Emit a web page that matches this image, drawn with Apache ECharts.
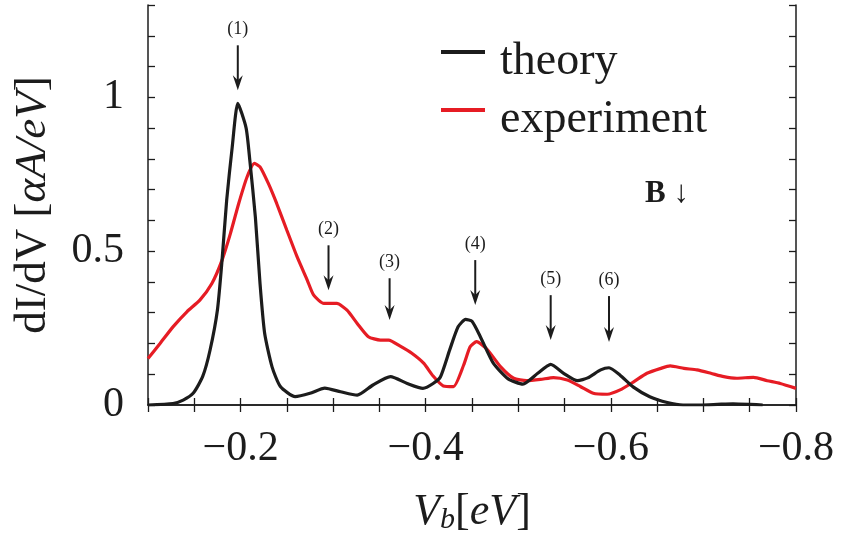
<!DOCTYPE html>
<html>
<head>
<meta charset="utf-8">
<script src="https://cdn.jsdelivr.net/npm/echarts@6/dist/echarts.min.js"></script>
<style>html,body{margin:0;padding:0;background:#fff}#c{width:843px;height:540px}</style>
</head>
<body>
<div id="c"></div>
<script>
// ---- data ----
const theoryX = [-0.100,-0.127,-0.138,-0.149,-0.159,-0.167,-0.175,-0.180,-0.185,-0.191,-0.197,-0.206,-0.210,-0.216,-0.221,-0.226,-0.234,-0.243,-0.259,-0.275,-0.291,-0.308,-0.326,-0.343,-0.362,-0.380,-0.397,-0.408,-0.416,-0.426,-0.435,-0.443,-0.450,-0.459,-0.473,-0.489,-0.505,-0.521,-0.535,-0.549,-0.564,-0.575,-0.589,-0.598,-0.610,-0.624,-0.642,-0.661,-0.678,-0.697,-0.715,-0.732,-0.751,-0.764];
const theoryY = [0.000,0.005,0.016,0.039,0.092,0.178,0.309,0.471,0.666,0.839,0.980,0.900,0.795,0.610,0.395,0.233,0.124,0.060,0.027,0.038,0.055,0.043,0.032,0.065,0.092,0.070,0.054,0.070,0.092,0.180,0.254,0.278,0.272,0.222,0.136,0.085,0.068,0.103,0.132,0.103,0.079,0.088,0.114,0.121,0.097,0.059,0.027,0.008,0.000,0.000,0.002,0.004,0.002,0.000];
const expX = [-0.100,-0.113,-0.127,-0.142,-0.156,-0.169,-0.180,-0.189,-0.198,-0.207,-0.215,-0.221,-0.230,-0.239,-0.250,-0.261,-0.272,-0.279,-0.290,-0.304,-0.315,-0.326,-0.338,-0.351,-0.360,-0.372,-0.385,-0.398,-0.408,-0.419,-0.430,-0.441,-0.448,-0.455,-0.466,-0.481,-0.495,-0.509,-0.524,-0.538,-0.553,-0.567,-0.581,-0.596,-0.610,-0.625,-0.639,-0.654,-0.664,-0.679,-0.693,-0.708,-0.722,-0.736,-0.754,-0.769,-0.783,-0.800];
const expY = [0.151,0.200,0.254,0.303,0.341,0.395,0.471,0.557,0.655,0.741,0.785,0.774,0.720,0.655,0.568,0.482,0.406,0.357,0.330,0.330,0.308,0.265,0.222,0.211,0.211,0.192,0.168,0.135,0.094,0.062,0.060,0.130,0.189,0.206,0.182,0.124,0.087,0.079,0.083,0.089,0.081,0.060,0.038,0.035,0.049,0.076,0.103,0.119,0.127,0.119,0.114,0.103,0.092,0.087,0.090,0.079,0.070,0.054];
// peak annotations: x position, arrow top, arrow tip (data units), label
const annX = [-0.197,-0.295,-0.361,-0.4535,-0.535,-0.598];
const annTop = [1.169,0.519,0.412,0.471,0.357,0.354];
const annTip = [1.023,0.373,0.276,0.325,0.211,0.205];
const annLabel = ['(1)','(2)','(3)','(4)','(5)','(6)'];
const xLabelValues = [-0.2,-0.4,-0.6,-0.8];
const yLabelValues = [0,0.5,1];

const FONT = 'Liberation Serif';
const INK = '#1c1c1c';
const RED = '#e61c24';

const theoryData = theoryX.map((x,i)=>[x, theoryY[i]]);
const expData = expX.map((x,i)=>[x, expY[i]]);
const annData = annX.map((x,i)=>[x, annTop[i], annTip[i], i]);

function xFmt(v){
  for (const t of xLabelValues) if (Math.abs(v-t)<1e-6) return '\u2212' + Math.abs(t).toFixed(1);
  return '';
}
function yFmt(v){
  for (const t of yLabelValues) if (Math.abs(v-t)<1e-6) return String(t);
  return '';
}

const tick = {show:true, inside:true, length:7, lineStyle:{color:INK, width:1.3}};
const line = {show:true, lineStyle:{color:INK, width:1.5}};

const chart = echarts.init(document.getElementById('c'), null, {renderer:'canvas'});
chart.setOption({
  animation:false,
  backgroundColor:'#fff',
  grid:{left:148, right:47, top:5, bottom:135, outerBoundsMode:'none'},
  legend:{
    data:['theory','experiment'], icon:'rect',
    orient:'vertical', left:441, top:19, padding:0,
    itemWidth:44, itemHeight:4, itemGap:-8,
    formatter:function(name){ return '{t|' + name + '}'; },
    textStyle:{fontFamily:FONT, fontSize:46, color:INK,
      rich:{t:{fontFamily:FONT, fontSize:46, lineHeight:46, color:INK, padding:[20,0,0,10]}}}
  },
  xAxis:[{
    type:'value', min:-0.8, max:-0.1, interval:0.05, inverse:true, position:'bottom',
    axisLine:line, axisTick:tick, splitLine:{show:false},
    axisLabel:{formatter:xFmt, fontFamily:FONT, fontSize:42, color:INK, margin:23},
    name:'{i|V}{s|b}{n|[}{i|eV}{n|]}', nameLocation:'middle', nameGap:84,
    nameTextStyle:{rich:{
      i:{fontFamily:FONT, fontStyle:'italic', fontSize:44, lineHeight:46, color:INK},
      n:{fontFamily:FONT, fontSize:44, lineHeight:46, color:INK},
      s:{fontFamily:FONT, fontStyle:'italic', fontSize:30, lineHeight:16, verticalAlign:'bottom', color:INK}
    }}
  },{
    type:'value', min:-0.8, max:-0.1, interval:0.05, inverse:true, position:'top',
    axisLine:line, axisTick:tick, axisLabel:{show:false}, splitLine:{show:false}
  }],
  yAxis:[{
    type:'value', min:0, max:1.3, interval:0.1, position:'left',
    axisLine:line, axisTick:tick, splitLine:{show:false},
    axisLabel:{formatter:yFmt, fontFamily:FONT, fontSize:42, color:INK, margin:24},
    name:'{n|dI/dV [}{i|\u03b1A/eV}{n|]}', nameLocation:'middle', nameGap:92,
    nameTextStyle:{rich:{
      i:{fontFamily:FONT, fontStyle:'italic', fontSize:45, color:INK},
      n:{fontFamily:FONT, fontSize:45, color:INK}
    }}
  },{
    type:'value', min:0, max:1.3, interval:0.1, position:'right',
    axisLine:line, axisTick:tick, axisLabel:{show:false}, splitLine:{show:false}
  }],
  series:[{
    name:'theory', type:'line', data:theoryData, showSymbol:false, symbol:'none', smooth:0.2,
    lineStyle:{color:INK, width:3.2}, itemStyle:{color:INK}, z:3
  },{
    name:'experiment', type:'line', data:expData, showSymbol:false, symbol:'none', smooth:0.2,
    lineStyle:{color:RED, width:3.2}, itemStyle:{color:RED}, z:2
  },{
    name:'peaks', type:'custom', data:annData, z:5, silent:true,
    renderItem:function(params, api){
      const x = api.value(0);
      const p1 = api.coord([x, api.value(1)]);
      const p2 = api.coord([x, api.value(2)]);
      const idx = api.value(3);
      return {type:'group', children:[
        {type:'line', shape:{x1:p1[0], y1:p1[1], x2:p2[0], y2:p2[1]-8}, style:{stroke:INK, lineWidth:2}},
        {type:'polygon', shape:{points:[[p2[0],p2[1]],[p2[0]-5,p2[1]-15],[p2[0],p2[1]-10],[p2[0]+5,p2[1]-15]]}, style:{fill:INK}},
        {type:'text', x:p1[0], y:p1[1]-16, style:{text:annLabel[idx], font:'18px "Liberation Serif"', fill:INK, align:'center', verticalAlign:'middle'}}
      ]};
    }
  }],
  graphic:[{
    type:'text', left:645, top:178,
    style:{text:'B \u2193', font:'bold 31px "Liberation Serif"', fill:INK}
  }]
});
</script>
</body>
</html>
